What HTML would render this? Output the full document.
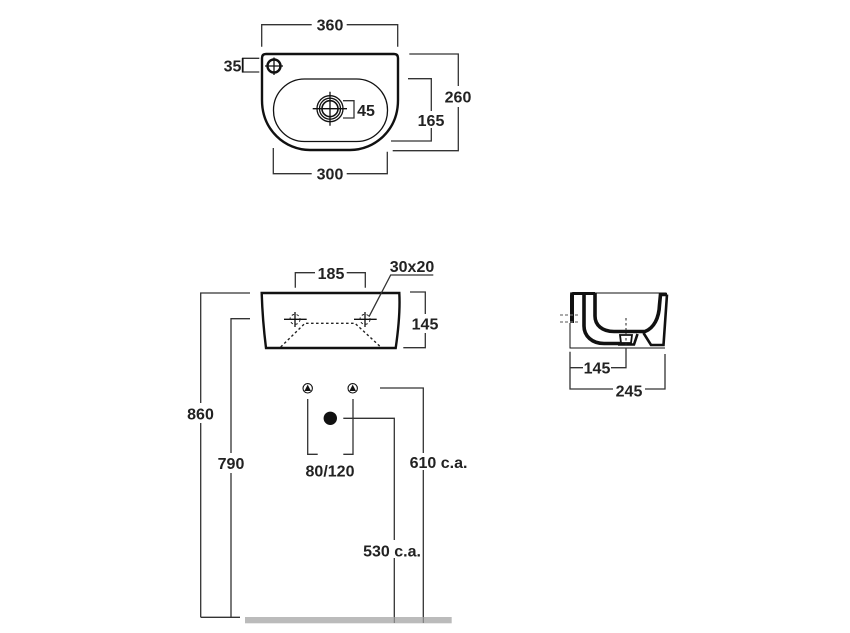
<!DOCTYPE html>
<html><head><meta charset="utf-8"><style>
html,body{margin:0;padding:0;background:#fff}
svg{display:block}
text{font:bold 16px "Liberation Sans",Arial,sans-serif;fill:#222;text-anchor:middle}
.d{fill:none;stroke:#333;stroke-width:1.3}
.k{fill:none;stroke:#111;stroke-width:2.4}
.t{fill:none;stroke:#111;stroke-width:1.3}
.h{fill:none;stroke:#111;stroke-width:3.6}
.dash{fill:none;stroke:#222;stroke-width:1.4;stroke-dasharray:2.5 2.5}
</style></head><body>
<svg width="850" height="633" viewBox="0 0 850 633" xmlns="http://www.w3.org/2000/svg">
<!-- top view -->
<path class="k" d="M262,58Q262,54 266,54L394,54Q398,54 398,58L398,100C398,130 375,150 350,150L310,150C285,150 262,130 262,100Z"/>
<rect class="t" x="273.5" y="79" width="114" height="62.5" rx="31" ry="31"/>
<circle class="t" cx="330" cy="108.7" r="13"/><circle class="t" cx="330" cy="108.7" r="10.5"/><circle class="k" cx="330" cy="108.7" r="8" style="stroke-width:1.6"/>
<path class="t" d="M312.7,108.7H347M330,91.7V125.7"/>
<circle class="k" cx="274" cy="66" r="6.5"/>
<path class="t" d="M265,66H283M274,57.5V75"/>
<path class="d" d="M261.7,46.7V24.7H311.7M346.7,24.7H397.7V46.7"/>
<text x="330" y="30.5">360</text>
<path class="d" d="M259.3,58.3H242.7V72H259.3"/><path class="k" d="M242.7,58V72.5" style="stroke-width:1.8"/>
<text x="232.5" y="71.5">35</text>
<path class="d" d="M343,100.7H354V118H343"/>
<text x="366" y="116">45</text>
<path class="d" d="M409.3,54H458.3V86M458.3,107V150.7H392.7"/>
<text x="458" y="102.5">260</text>
<path class="d" d="M408,78.7H431.3V111M431.3,128V141H391"/>
<text x="431" y="126">165</text>
<path class="d" d="M273.3,148V173.7H311.7M346.7,173.7H387.3V151.7"/>
<text x="330" y="179.5">300</text>
<!-- front view -->
<path class="k" d="M261.7,293H399.3Q400.5,315 395.7,348H266Q262.5,320 261.7,293Z"/>
<path class="t" d="M284,319.3H306.7M295,312V327M354,319.3H376.7M365,312V327"/>
<circle class="dash" cx="295" cy="319.3" r="5" style="stroke-width:1"/><circle class="dash" cx="365" cy="319.3" r="5" style="stroke-width:1"/>
<path class="dash" d="M280.7,347L305,323.3H355L380.7,347"/>
<path class="d" d="M295.3,287.7V272.7H315M346.7,272.7H365.3V287.7"/>
<text x="331" y="279">185</text>
<text x="412" y="272">30x20</text>
<path class="d" d="M433.3,275H390.7L369,316.7"/>
<path class="d" d="M410,292H425.3V314M425.3,333V347.7H403.3"/>
<text x="425" y="329.5">145</text>
<path class="d" d="M250,293H200.7V403M200.7,423V617.3M240,617.3H200.7"/>
<text x="200.5" y="419.5">860</text>
<path class="d" d="M250,318.7H231V453M231,473V617.3"/>
<text x="231" y="469">790</text>
<circle class="k" cx="307.7" cy="388.3" r="4.7" style="stroke-width:1.1"/><path d="M307.7,384.6L311,391H304.4Z" fill="#111"/>
<circle class="k" cx="352.7" cy="388.3" r="4.7" style="stroke-width:1.1"/><path d="M352.7,384.6L356,391H349.4Z" fill="#111"/>
<path class="d" d="M307.7,399V454.3H317.7M343.3,454.3H353V399"/>
<text x="330" y="476.5">80/120</text>
<circle cx="330.3" cy="418.3" r="6.7" fill="#111"/>
<path class="d" d="M343.3,418.3H394.3V540M394.3,558V617"/>
<text x="392" y="556.5">530 c.a.</text>
<path class="d" d="M380,388H423.3V453M423.3,470V617"/>
<text x="438.5" y="468">610 c.a.</text>
<rect x="245" y="617" width="206.7" height="6.3" fill="#bbb"/>
<path d="M394.3,617V623M423.3,617V623" stroke="#777" stroke-width="1"/>
<!-- side view -->
<path class="t" d="M570,293H666M570,323V348H665" style="stroke-width:1"/>
<path d="M570,295Q570,292 573,292H595V295H574V323H570Z" fill="#111"/>
<path class="h" d="M584,293V326C584,336 592,343.5 604,343.5H620"/>
<path class="h" d="M595,293V316C595,325 602,331.5 614,331.5H645C654,328 659,318 659.5,305L660.5,294.5H667"/>
<path class="k" d="M667,294.5L663.5,345H651L643.5,333M637.5,334L634,344.5H618" style="stroke-width:2.6"/>
<path class="k" d="M620,335H632L631,343H621Z" style="stroke-width:1.8"/>
<path class="t" d="M560,315H578M560,322H578" stroke-dasharray="3 2" style="stroke:#777"/>
<path class="dash" d="M626,318V348" style="stroke-width:1"/>
<path class="d" d="M570,351.7V389H613M645,389H665V354M570,367.7H583M611,367.7H626V348"/>
<text x="597" y="373.5">145</text>
<text x="629" y="396.5">245</text>
</svg>
</body></html>
